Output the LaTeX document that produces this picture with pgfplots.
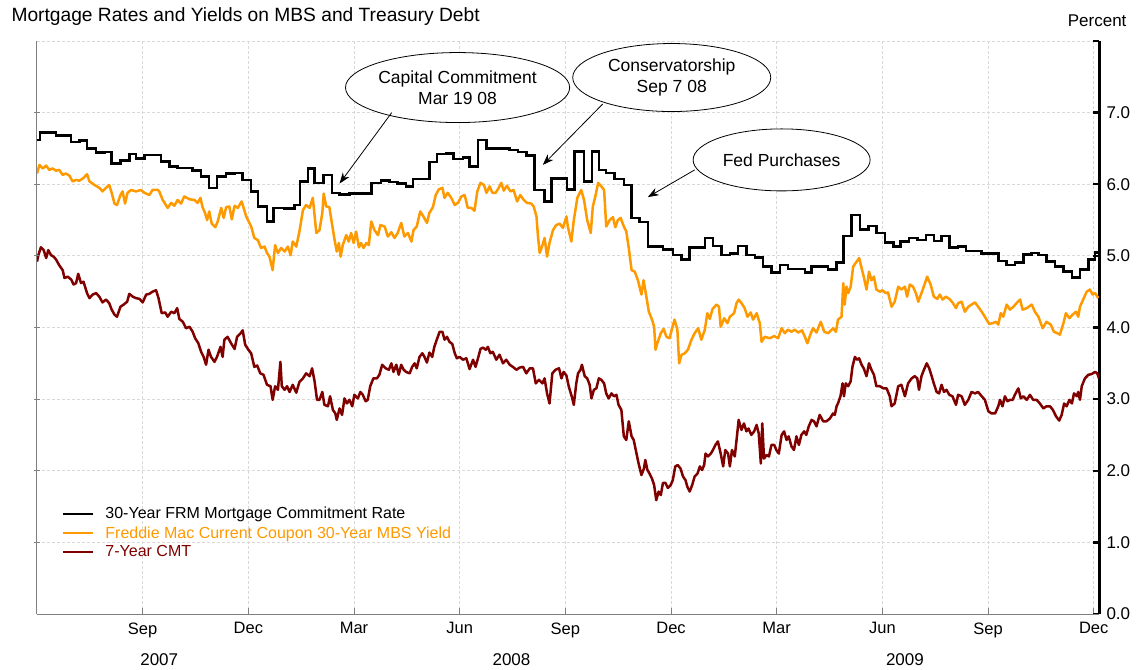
\documentclass[border=0pt]{standalone}
\usepackage{pgfplots}
\pgfplotsset{compat=1.18}
\usepackage{fontspec}
\setmainfont{Liberation Sans}
\usetikzlibrary{shapes.geometric,arrows.meta}
\definecolor{mbsorange}{HTML}{FF9900}
\definecolor{cmtred}{HTML}{800000}
\definecolor{gridgray}{HTML}{D9D9D9}
\definecolor{axisgray}{HTML}{808080}

\begin{document}
\begin{tikzpicture}
\begin{axis}[
    scale only axis,
    width=1062pt, height=573pt,
    xmin=5, xmax=35.15,
    ymin=0, ymax=8,
    axis x line*=bottom,
    axis y line*=right,
    axis line style={-},
    x axis line style={axisgray, line width=1pt},
    y axis line style={black, line width=3pt},
    xtick={8,11,...,35},
    xticklabels={Sep,Dec,Mar,Jun,Sep,Dec,Mar,Jun,Sep,Dec},
    ytick={0,...,8},
    yticklabels={0.0,1.0,2.0,3.0,4.0,5.0,6.0,7.0,{}},
    tick align=inside,
    major tick length=6pt,
    xtick style={axisgray, line width=0.8pt},
    ytick style={black, line width=2.5pt},
    xmajorgrids, ymajorgrids,
    major grid style={gridgray, dash pattern=on 3pt off 2pt, line width=0.8pt},
    xticklabel style={font=\fontsize{16.5}{19}\selectfont, yshift=-5pt},
    yticklabel style={font=\fontsize{17}{20}\selectfont, xshift=4pt},
    clip mode=individual,
    legend cell align=left,
    legend image code/.code={\draw[#1, line width=1.3pt] (0pt,0pt) -- (30pt,0pt);},
    legend style={at={(0.0235,0.19)}, anchor=north west, draw=none, fill=none,
        inner sep=0pt, font=\fontsize{16}{19}\selectfont, row sep=2pt,
        /tikz/every odd column/.append style={column sep=10pt}},
]
% 30-year FRM commitment rate (weekly)
\addplot[const plot, black, line width=2.5pt] coordinates {
(5.00,6.62)(5.08,6.72)(5.54,6.68)(5.97,6.59)(6.20,6.61)(6.42,6.50)(6.68,6.44)(6.91,6.45)
(7.12,6.29)(7.37,6.33)(7.62,6.42)(7.81,6.36)(8.05,6.41)(8.52,6.32)(8.76,6.25)(8.99,6.23)
(9.42,6.19)(9.66,6.11)(9.89,5.95)(10.11,6.11)(10.37,6.15)(10.61,6.16)(10.84,6.06)(11.08,5.90)
(11.27,5.69)(11.53,5.48)(11.72,5.67)(12.03,5.66)(12.31,5.71)(12.47,6.04)(12.69,6.22)(12.88,6.02)
(13.13,6.13)(13.37,5.88)(13.59,5.86)(13.87,5.87)(14.49,6.02)(14.77,6.05)(15.01,6.03)(15.24,6.01)
(15.48,5.97)(15.67,6.07)(16.14,6.31)(16.35,6.42)(16.62,6.43)(16.83,6.35)(17.09,6.37)(17.28,6.25)
(17.52,6.62)(17.76,6.50)(18.42,6.48)(18.65,6.45)(18.89,6.40)(19.13,5.92)(19.41,5.76)(19.60,6.08)
(20.04,5.93)(20.26,6.46)(20.53,6.04)(20.76,6.46)(20.95,6.20)(21.16,6.16)(21.40,6.07)(21.66,5.99)
(21.88,5.53)(22.11,5.47)(22.35,5.13)(22.77,5.09)(23.06,5.01)(23.30,4.95)(23.53,5.12)(23.96,5.25)
(24.19,5.14)(24.43,5.01)(24.67,5.03)(24.90,5.14)(25.14,5.01)(25.38,4.98)(25.61,4.85)(25.85,4.77)
(26.09,4.87)(26.32,4.82)(26.80,4.77)(26.99,4.85)(27.46,4.81)(27.70,4.91)(27.89,5.28)(28.13,5.57)
(28.36,5.37)(28.60,5.42)(28.84,5.32)(29.07,5.19)(29.31,5.13)(29.52,5.20)(29.75,5.25)(29.99,5.22)
(30.24,5.29)(30.46,5.21)(30.68,5.28)(30.90,5.12)(31.15,5.13)(31.37,5.07)(31.82,5.03)(32.29,4.93)
(32.53,4.87)(32.76,4.91)(33.00,5.02)(33.24,5.04)(33.43,5.01)(33.66,4.92)(33.90,4.85)(34.14,4.78)
(34.38,4.70)(34.61,4.81)(34.85,4.95)(35.04,5.05)(35.15,5.05)
};
\addlegendentry{30-Year FRM Mortgage Commitment Rate}
% Freddie Mac current coupon MBS yield
\addplot[mbsorange, line width=2.5pt, line join=round] coordinates {
(5.00,6.15)(5.07,6.27)(5.16,6.22)(5.26,6.26)(5.35,6.20)(5.44,6.22)(5.54,6.19)(5.63,6.20)(5.73,6.13)
(5.82,6.15)(5.92,6.12)(6.01,6.04)(6.11,6.06)(6.20,6.05)(6.30,6.08)(6.42,6.14)(6.49,6.04)(6.63,5.99)
(6.77,5.95)(6.86,5.90)(6.96,5.95)(7.05,5.99)(7.12,5.88)(7.20,5.73)(7.27,5.71)(7.37,5.85)(7.43,5.90)
(7.50,5.73)(7.57,5.88)(7.67,5.92)(7.81,5.90)(7.95,5.92)(8.05,5.88)(8.19,5.85)(8.28,5.92)(8.43,5.92)
(8.47,5.90)(8.57,5.78)(8.71,5.67)(8.81,5.74)(8.90,5.70)(8.99,5.78)(9.09,5.73)(9.18,5.83)(9.33,5.79)
(9.47,5.78)(9.56,5.74)(9.64,5.81)(9.70,5.68)(9.77,5.60)(9.83,5.50)(9.89,5.62)(9.96,5.45)(10.06,5.40)
(10.13,5.48)(10.23,5.67)(10.30,5.53)(10.37,5.68)(10.46,5.69)(10.53,5.51)(10.61,5.70)(10.70,5.67)
(10.81,5.76)(10.94,5.55)(11.08,5.41)(11.17,5.25)(11.27,5.22)(11.36,5.11)(11.46,5.13)(11.53,5.04)
(11.60,4.99)(11.69,4.80)(11.76,5.15)(11.84,5.04)(11.93,5.11)(12.03,5.06)(12.12,5.13)(12.20,5.01)
(12.26,5.20)(12.36,5.13)(12.45,5.34)(12.55,5.64)(12.64,5.71)(12.74,5.67)(12.83,5.81)(12.93,5.32)
(13.02,5.36)(13.10,5.60)(13.14,5.87)(13.21,5.69)(13.30,5.68)(13.37,5.46)(13.45,5.22)(13.51,5.06)
(13.57,5.18)(13.62,4.99)(13.68,5.15)(13.78,5.29)(13.85,5.20)(13.92,5.32)(13.99,5.18)(14.06,5.34)
(14.14,5.12)(14.20,5.18)(14.27,5.11)(14.35,5.18)(14.42,5.15)(14.49,5.48)(14.58,5.36)(14.68,5.29)
(14.75,5.43)(14.87,5.41)(14.96,5.27)(15.06,5.33)(15.15,5.25)(15.24,5.32)(15.34,5.46)(15.43,5.27)
(15.53,5.32)(15.63,5.20)(15.69,5.36)(15.78,5.41)(15.88,5.62)(15.97,5.55)(16.07,5.46)(16.14,5.60)
(16.24,5.68)(16.32,5.85)(16.41,5.93)(16.51,5.95)(16.57,5.81)(16.66,5.88)(16.76,5.81)(16.86,5.71)
(16.95,5.74)(17.05,5.83)(17.14,5.85)(17.23,5.67)(17.33,5.67)(17.42,5.63)(17.50,5.90)(17.59,6.02)
(17.69,5.99)(17.76,5.88)(17.85,5.97)(17.93,5.88)(18.02,5.88)(18.11,5.95)(18.18,6.02)(18.25,5.91)
(18.34,5.98)(18.44,5.90)(18.53,5.92)(18.63,5.76)(18.72,5.85)(18.82,5.78)(18.91,5.74)(19.03,5.73)
(19.10,5.69)(19.18,5.55)(19.22,5.29)(19.27,5.04)(19.35,5.15)(19.41,5.25)(19.48,4.99)(19.55,5.18)
(19.65,5.36)(19.74,5.43)(19.84,5.45)(19.93,5.39)(20.03,5.55)(20.07,5.41)(20.17,5.20)(20.24,5.50)
(20.34,5.81)(20.45,5.92)(20.53,5.78)(20.62,5.50)(20.72,5.32)(20.78,5.69)(20.86,5.85)(20.93,6.02)
(21.02,5.97)(21.10,5.92)(21.16,5.41)(21.26,5.50)(21.35,5.54)(21.42,5.40)(21.49,5.50)(21.57,5.53)
(21.66,5.41)(21.73,5.34)(21.80,5.11)(21.88,4.80)(21.97,4.78)(22.06,4.66)(22.16,4.46)(22.22,4.66)
(22.30,4.43)(22.37,4.22)(22.46,4.11)(22.52,4.01)(22.56,3.69)(22.61,3.78)(22.71,3.92)(22.79,3.98)
(22.87,3.87)(22.96,3.85)(23.03,3.99)(23.10,4.11)(23.18,3.97)(23.23,3.50)(23.30,3.62)(23.39,3.64)
(23.48,3.69)(23.58,3.83)(23.67,3.92)(23.77,3.99)(23.86,3.83)(23.96,3.97)(24.03,4.20)(24.10,4.12)
(24.18,4.26)(24.29,4.32)(24.36,4.29)(24.41,4.01)(24.51,4.13)(24.60,4.06)(24.67,4.15)(24.79,4.20)
(24.86,4.34)(24.92,4.39)(25.00,4.34)(25.09,4.27)(25.17,4.15)(25.26,4.21)(25.33,4.11)(25.43,4.20)
(25.52,4.06)(25.57,3.80)(25.66,3.87)(25.80,3.85)(25.93,3.88)(26.04,3.85)(26.14,3.99)(26.23,3.92)
(26.32,3.97)(26.42,3.94)(26.51,3.97)(26.61,3.93)(26.72,3.96)(26.80,3.87)(26.87,3.78)(26.97,3.92)
(27.03,3.99)(27.13,3.93)(27.25,4.08)(27.35,3.94)(27.46,3.92)(27.60,3.99)(27.68,3.94)(27.74,4.11)
(27.84,4.15)(27.89,4.62)(27.93,4.32)(27.98,4.57)(28.03,4.48)(28.10,4.57)(28.17,4.85)(28.27,4.92)
(28.34,4.97)(28.41,4.83)(28.47,4.71)(28.55,4.53)(28.62,4.78)(28.69,4.66)(28.76,4.71)(28.83,4.53)
(28.93,4.50)(29.00,4.52)(29.10,4.48)(29.16,4.49)(29.26,4.29)(29.35,4.36)(29.45,4.57)(29.54,4.53)
(29.64,4.57)(29.70,4.43)(29.78,4.60)(29.87,4.57)(29.95,4.48)(30.02,4.36)(30.11,4.48)(30.21,4.62)
(30.27,4.71)(30.37,4.60)(30.46,4.43)(30.56,4.40)(30.63,4.46)(30.71,4.39)(30.80,4.43)(30.90,4.40)
(30.99,4.35)(31.09,4.27)(31.15,4.34)(31.25,4.36)(31.34,4.22)(31.44,4.29)(31.53,4.32)(31.63,4.35)
(31.72,4.29)(31.82,4.22)(31.91,4.15)(32.03,4.05)(32.13,4.06)(32.22,4.08)(32.29,4.04)(32.36,4.20)
(32.43,4.15)(32.53,4.32)(32.62,4.25)(32.72,4.29)(32.81,4.34)(32.91,4.39)(32.98,4.25)(33.10,4.27)
(33.24,4.32)(33.33,4.22)(33.43,4.15)(33.55,3.99)(33.66,4.08)(33.78,4.04)(33.87,3.94)(33.97,3.92)
(34.04,3.90)(34.14,4.06)(34.21,4.20)(34.31,4.13)(34.40,4.18)(34.50,4.22)(34.56,4.15)(34.61,4.29)
(34.70,4.39)(34.80,4.50)(34.89,4.53)(34.97,4.46)(35.04,4.48)(35.13,4.41)
};
\addlegendentry{\textcolor{mbsorange}{Freddie Mac Current Coupon 30-Year MBS Yield}}
% 7-year constant maturity Treasury
\addplot[cmtred, line width=2.5pt, line join=round] coordinates {
(5.00,4.92)(5.04,5.01)(5.11,5.12)(5.19,5.08)(5.26,4.97)(5.32,5.08)(5.40,5.01)(5.47,4.99)(5.54,4.95)
(5.63,4.87)(5.73,4.80)(5.78,4.69)(5.87,4.71)(5.97,4.67)(6.04,4.60)(6.11,4.62)(6.17,4.75)(6.25,4.62)
(6.32,4.64)(6.42,4.48)(6.49,4.41)(6.58,4.46)(6.68,4.48)(6.77,4.43)(6.86,4.35)(6.96,4.39)(7.05,4.34)
(7.12,4.25)(7.20,4.18)(7.27,4.15)(7.37,4.29)(7.46,4.32)(7.56,4.36)(7.62,4.47)(7.72,4.43)(7.81,4.41)
(7.91,4.40)(8.00,4.35)(8.10,4.46)(8.19,4.47)(8.28,4.50)(8.38,4.52)(8.45,4.41)(8.54,4.20)(8.64,4.21)
(8.71,4.15)(8.81,4.22)(8.90,4.20)(8.98,4.27)(9.04,4.12)(9.14,4.08)(9.23,3.99)(9.33,4.01)(9.42,3.94)
(9.49,3.85)(9.58,3.78)(9.66,3.66)(9.73,3.59)(9.80,3.48)(9.87,3.69)(9.94,3.59)(10.04,3.52)(10.11,3.59)
(10.21,3.73)(10.27,3.59)(10.32,3.83)(10.41,3.87)(10.51,3.78)(10.61,3.70)(10.68,3.87)(10.78,3.92)
(10.84,3.96)(10.91,3.76)(11.00,3.69)(11.08,3.64)(11.17,3.45)(11.25,3.47)(11.34,3.36)(11.43,3.34)
(11.53,3.20)(11.63,3.18)(11.69,2.99)(11.76,3.18)(11.84,3.13)(11.91,3.52)(11.95,3.18)(12.03,3.13)
(12.10,3.18)(12.17,3.10)(12.26,3.20)(12.36,3.09)(12.45,3.24)(12.55,3.29)(12.64,3.36)(12.74,3.32)
(12.81,3.43)(12.88,3.25)(12.95,2.99)(13.02,2.99)(13.10,3.10)(13.16,2.92)(13.26,2.90)(13.32,3.04)
(13.40,2.85)(13.47,2.80)(13.51,2.71)(13.59,2.87)(13.66,2.78)(13.73,3.01)(13.80,2.94)(13.87,2.99)
(13.95,2.90)(14.01,3.06)(14.11,3.01)(14.18,3.10)(14.25,3.06)(14.33,2.97)(14.39,2.99)(14.46,3.18)
(14.55,3.29)(14.65,3.29)(14.72,3.34)(14.80,3.48)(14.90,3.43)(14.99,3.41)(15.06,3.50)(15.12,3.38)
(15.20,3.48)(15.27,3.34)(15.34,3.48)(15.41,3.41)(15.48,3.38)(15.58,3.36)(15.65,3.45)(15.72,3.50)
(15.78,3.43)(15.86,3.59)(15.94,3.64)(16.00,3.59)(16.07,3.51)(16.14,3.65)(16.22,3.59)(16.28,3.73)
(16.35,3.83)(16.43,3.94)(16.51,3.94)(16.57,3.83)(16.64,3.87)(16.71,3.80)(16.79,3.77)(16.86,3.64)
(16.92,3.57)(17.00,3.59)(17.09,3.55)(17.19,3.57)(17.28,3.42)(17.38,3.55)(17.45,3.45)(17.52,3.57)
(17.59,3.70)(17.66,3.72)(17.74,3.69)(17.80,3.73)(17.87,3.64)(17.94,3.66)(18.04,3.55)(18.13,3.62)
(18.23,3.50)(18.32,3.55)(18.42,3.48)(18.51,3.45)(18.61,3.41)(18.70,3.44)(18.80,3.45)(18.89,3.36)
(18.99,3.43)(19.08,3.43)(19.16,3.22)(19.25,3.27)(19.35,3.22)(19.41,3.29)(19.48,3.08)(19.55,2.94)
(19.63,3.36)(19.72,3.41)(19.82,3.43)(19.89,3.29)(19.95,3.38)(20.03,3.33)(20.10,3.17)(20.18,3.04)
(20.24,2.92)(20.31,3.22)(20.36,3.36)(20.43,3.41)(20.47,3.48)(20.55,3.32)(20.62,3.29)(20.69,3.20)
(20.74,3.01)(20.81,3.13)(20.88,3.15)(20.95,3.29)(21.02,3.27)(21.10,3.22)(21.16,3.08)(21.23,3.01)
(21.31,3.08)(21.38,3.04)(21.45,3.06)(21.51,2.92)(21.59,2.85)(21.66,2.48)(21.73,2.43)(21.80,2.69)
(21.88,2.48)(21.94,2.43)(22.02,2.24)(22.08,2.10)(22.16,1.94)(22.23,2.03)(22.27,2.15)(22.33,2.01)
(22.39,1.96)(22.46,1.89)(22.52,1.80)(22.58,1.59)(22.65,1.71)(22.71,1.66)(22.77,1.83)(22.84,1.83)
(22.91,1.76)(22.99,1.80)(23.05,1.87)(23.12,2.06)(23.19,2.08)(23.27,2.03)(23.34,1.92)(23.41,1.87)
(23.46,1.78)(23.53,1.71)(23.60,1.80)(23.67,1.92)(23.75,1.96)(23.82,2.06)(23.88,2.01)(23.94,2.08)
(23.98,2.24)(24.05,2.20)(24.13,2.24)(24.19,2.29)(24.26,2.36)(24.33,2.41)(24.41,2.24)(24.48,2.06)
(24.54,2.29)(24.62,2.24)(24.67,2.06)(24.73,2.29)(24.81,2.20)(24.86,2.43)(24.92,2.71)(25.00,2.57)
(25.07,2.66)(25.14,2.55)(25.20,2.59)(25.28,2.50)(25.36,2.55)(25.43,2.64)(25.49,2.52)(25.55,2.10)
(25.59,2.66)(25.64,2.17)(25.71,2.22)(25.78,2.20)(25.85,2.36)(25.93,2.36)(25.99,2.29)(26.06,2.24)
(26.14,2.50)(26.21,2.55)(26.28,2.43)(26.34,2.48)(26.42,2.34)(26.49,2.29)(26.56,2.48)(26.63,2.36)
(26.70,2.50)(26.78,2.55)(26.84,2.50)(26.91,2.62)(26.99,2.71)(27.06,2.69)(27.13,2.62)(27.22,2.78)
(27.32,2.69)(27.41,2.69)(27.51,2.73)(27.60,2.80)(27.65,2.78)(27.70,2.90)(27.74,2.94)(27.81,3.04)
(27.87,3.22)(27.91,3.04)(27.96,3.22)(28.03,3.18)(28.10,3.25)(28.15,3.45)(28.22,3.59)(28.28,3.55)
(28.34,3.57)(28.41,3.48)(28.47,3.43)(28.55,3.32)(28.62,3.50)(28.69,3.41)(28.76,3.34)(28.83,3.18)
(28.93,3.18)(29.03,3.15)(29.12,3.15)(29.21,3.04)(29.26,2.90)(29.35,2.94)(29.45,3.18)(29.54,3.20)
(29.64,3.04)(29.73,3.22)(29.83,3.29)(29.92,3.32)(29.99,3.29)(30.04,3.13)(30.11,3.32)(30.18,3.41)
(30.26,3.50)(30.33,3.43)(30.40,3.32)(30.46,3.22)(30.54,3.10)(30.61,3.08)(30.68,3.20)(30.75,3.10)
(30.82,3.13)(30.90,3.06)(30.99,3.04)(31.09,2.92)(31.15,3.06)(31.25,3.04)(31.34,2.92)(31.44,2.99)
(31.53,3.10)(31.63,3.08)(31.72,3.10)(31.82,3.04)(31.91,2.99)(32.01,2.83)(32.10,2.80)(32.20,2.80)
(32.29,2.90)(32.34,2.99)(32.41,2.90)(32.48,3.04)(32.55,2.97)(32.62,2.99)(32.70,2.99)(32.76,3.06)
(32.86,3.15)(32.93,3.01)(33.00,3.04)(33.10,2.99)(33.19,3.06)(33.28,2.99)(33.38,2.99)(33.47,2.94)
(33.57,2.87)(33.66,2.90)(33.76,2.90)(33.84,2.85)(33.93,2.76)(34.02,2.70)(34.09,2.78)(34.16,2.94)
(34.23,2.90)(34.31,2.99)(34.38,2.94)(34.44,3.08)(34.52,3.04)(34.56,3.10)(34.61,2.99)(34.66,3.18)
(34.75,3.29)(34.85,3.34)(34.94,3.35)(35.04,3.38)(35.10,3.36)(35.15,3.29)
};
\addlegendentry{\textcolor{cmtred}{7-Year CMT}}

% left axis line and its small ticks
\draw[axisgray, line width=1pt] (rel axis cs:0,0) -- (rel axis cs:0,1);
\pgfplotsinvokeforeach{1,...,7}{
  \draw[axisgray, line width=0.8pt] ([xshift=-3pt]axis cs:5,#1) -- ([xshift=3pt]axis cs:5,#1);
}

% title, unit, years
\node[anchor=base west, font=\fontsize{19.2}{23}\selectfont]
  at ([xshift=-29pt,yshift=19pt]rel axis cs:0,1) {Mortgage Rates and Yields on MBS and Treasury Debt};
\node[anchor=base east, font=\fontsize{17}{20}\selectfont]
  at ([xshift=31pt,yshift=14pt]rel axis cs:1,1) {Percent};
\node[font=\fontsize{17}{20}\selectfont] at ([yshift=-46pt]axis cs:8.47,0) {2007};
\node[font=\fontsize{17}{20}\selectfont] at ([yshift=-46pt]axis cs:18.47,0) {2008};
\node[font=\fontsize{17}{20}\selectfont] at ([yshift=-46pt]axis cs:29.64,0) {2009};

% event callouts
\tikzset{callout/.style={ellipse, draw, fill=white, line width=0.8pt, inner sep=0pt,
    align=center, font=\fontsize{17.5}{21}\selectfont}}
\node[callout, minimum width=188pt, minimum height=70pt] at (axis cs:16.94,7.35)
  {Capital Commitment\\Mar 19 08};
\node[callout, minimum width=198pt, minimum height=68pt] at (axis cs:23.02,7.49)
  {Conservatorship\\Sep 7 08};
\node[callout, minimum width=177pt, minimum height=62pt] at (axis cs:26.14,6.34)
  {Fed Purchases};
\draw[-{Stealth[length=11pt,width=8pt]}, line width=0.8pt] (axis cs:15.07,7.00) -- (axis cs:13.59,6.01);
\draw[-{Stealth[length=11pt,width=8pt]}, line width=0.8pt] (axis cs:21.06,7.12) -- (axis cs:19.36,6.27);
\draw[-{Stealth[length=11pt,width=8pt]}, line width=0.8pt] (axis cs:23.67,6.20) -- (axis cs:22.34,5.82);

\coordinate (sw) at (rel axis cs:0,0);
\coordinate (ne) at (rel axis cs:1,1);
\end{axis}
\pgfresetboundingbox
\path ([shift={(-37pt,-55pt)}]sw) rectangle ([shift={(38pt,41pt)}]ne);
\end{tikzpicture}
\end{document}
